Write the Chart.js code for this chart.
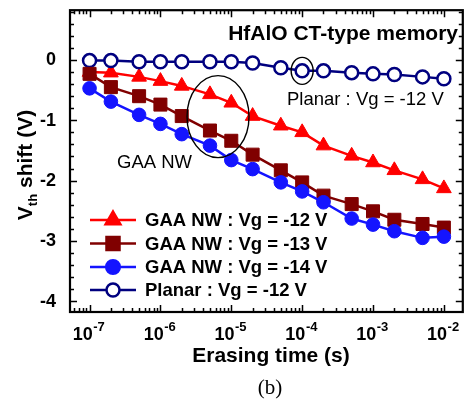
<!DOCTYPE html>
<html>
<head>
<meta charset="utf-8">
<script src="https://cdn.jsdelivr.net/npm/chart.js@4.4.1/dist/chart.umd.min.js"></script>
<style>
  html, body { margin: 0; padding: 0; background: #ffffff; }
  #wrap { width: 473px; height: 412px; }
</style>
</head>
<body>
<div id="wrap"><canvas id="c" width="473" height="412"></canvas></div>
<script>
// ---- data ----
const times = [1e-7, 2e-7, 5e-7, 1e-6, 2e-6, 5e-6, 1e-5, 2e-5, 5e-5, 1e-4, 2e-4, 5e-4, 1e-3, 2e-3, 5e-3, 1e-2];
const gaaVg12 = [-0.20, -0.21, -0.28, -0.35, -0.43, -0.57, -0.71, -0.93, -1.09, -1.20, -1.42, -1.59, -1.70, -1.83, -1.98, -2.13];
const gaaVg13 = [-0.23, -0.45, -0.60, -0.74, -0.93, -1.17, -1.34, -1.57, -1.83, -2.03, -2.25, -2.39, -2.51, -2.65, -2.72, -2.78];
const gaaVg14 = [-0.47, -0.69, -0.91, -1.06, -1.23, -1.42, -1.66, -1.81, -2.03, -2.18, -2.36, -2.63, -2.73, -2.84, -2.95, -2.93];
const planarVg12 = [-0.01, -0.01, -0.03, -0.03, -0.03, -0.03, -0.03, -0.05, -0.13, -0.18, -0.18, -0.21, -0.23, -0.24, -0.28, -0.31];
const xTickExponents = [-7, -6, -5, -4, -3, -2];
const yTickValues = [0, -1, -2, -3, -4];
const seriesLabels = ['GAA NW : Vg = -12 V', 'GAA NW : Vg = -13 V', 'GAA NW : Vg = -14 V', 'Planar : Vg = -12 V'];

const toXY = arr => arr.map((v, i) => ({ x: times[i], y: v }));

const COLORS = { red: '#ff0000', maroon: '#800000', blue: '#1414ff', navy: '#00007f' };
const SANS = '"Liberation Sans", Arial, Helvetica, sans-serif';

const styles = [
  { color: COLORS.red, pointStyle: 'triangle', radius: 8.5, fill: COLORS.red },
  { color: COLORS.maroon, pointStyle: 'rect', radius: 9.2, fill: COLORS.maroon },
  { color: COLORS.blue, pointStyle: 'circle', radius: 6.8, fill: COLORS.blue },
  { color: COLORS.navy, pointStyle: 'circle', radius: 6.5, fill: '#ffffff' }
];
const seriesData = [gaaVg12, gaaVg13, gaaVg14, planarVg12];

const datasets = seriesData.map((d, i) => ({
  label: seriesLabels[i],
  data: toXY(d),
  borderColor: styles[i].color,
  backgroundColor: styles[i].fill,
  pointBackgroundColor: styles[i].fill,
  pointBorderColor: styles[i].color,
  pointStyle: styles[i].pointStyle,
  pointRadius: styles[i].radius,
  pointHoverRadius: styles[i].radius,
  pointBorderWidth: i === 3 ? 2.5 : 1,
  borderWidth: 2.5,
  tension: 0,
  fill: false,
  order: [3, 1, 0, 2][i]
}));

const decorPlugin = {
  id: 'decor',
  afterDatasetsDraw(chart) {
    const ctx = chart.ctx;
    const xs = chart.scales.x, ys = chart.scales.y;
    const a = chart.chartArea;
    ctx.save();

    // ellipses (annotation circles), centred in data units
    ctx.strokeStyle = '#000';
    ctx.lineWidth = 1.4;
    ctx.beginPath();
    ctx.ellipse(xs.getPixelForValue(6.5e-6), ys.getPixelForValue(-0.94), 31, 41, 0, 0, Math.PI * 2);
    ctx.stroke();
    ctx.beginPath();
    ctx.ellipse(xs.getPixelForValue(1e-4), ys.getPixelForValue(-0.18), 11, 13.5, 0, 0, Math.PI * 2);
    ctx.stroke();

    // frame
    ctx.strokeStyle = '#000';
    ctx.lineWidth = 2.2;
    ctx.strokeRect(a.left, a.top, a.right - a.left, a.bottom - a.top);

    // x ticks (log): major decades, minor 2..9
    ctx.lineWidth = 1.5;
    const decMin = Math.floor(Math.log10(xs.min)), decMax = Math.ceil(Math.log10(xs.max));
    for (let d = decMin; d <= decMax; d++) {
      for (let m = 1; m <= 9; m++) {
        const v = m * Math.pow(10, d);
        if (v < xs.min || v > xs.max) continue;
        const px = Math.round(xs.getPixelForValue(v)) + 0.5;
        const len = m === 1 ? 7 : 4;
        ctx.beginPath();
        ctx.moveTo(px, a.bottom); ctx.lineTo(px, a.bottom - len);
        ctx.moveTo(px, a.top); ctx.lineTo(px, a.top + len);
        ctx.stroke();
      }
    }
    // y ticks every 0.2
    for (let k = Math.ceil(ys.min / 0.2); k <= Math.floor(ys.max / 0.2); k++) {
      const v = k * 0.2;
      const py = Math.round(ys.getPixelForValue(v)) + 0.5;
      const len = (k % 5 === 0) ? 7 : 4;
      ctx.beginPath();
      ctx.moveTo(a.left, py); ctx.lineTo(a.left + len, py);
      ctx.moveTo(a.right, py); ctx.lineTo(a.right - len, py);
      ctx.stroke();
    }

    ctx.fillStyle = '#000';
    // y tick labels
    ctx.font = 'bold 18px ' + SANS;
    ctx.textAlign = 'right';
    ctx.textBaseline = 'middle';
    yTickValues.forEach(v => {
      ctx.fillText(String(v), 56, ys.getPixelForValue(v) + 0.5);
    });

    // x tick labels 10^n
    ctx.textBaseline = 'alphabetic';
    ctx.textAlign = 'left';
    xTickExponents.forEach(e => {
      const px = xs.getPixelForValue(Math.pow(10, e));
      ctx.font = 'bold 18px ' + SANS;
      const w1 = ctx.measureText('10').width;
      ctx.font = 'bold 13px ' + SANS;
      const w2 = ctx.measureText(String(e)).width;
      const x0 = px - (w1 + w2) / 2 - 1;
      ctx.font = 'bold 18px ' + SANS;
      ctx.fillText('10', x0, 340);
      ctx.font = 'bold 13px ' + SANS;
      ctx.fillText(String(e), x0 + w1 + 0.5, 331);
    });

    // axis titles
    ctx.font = 'bold 21px ' + SANS;
    ctx.textAlign = 'center';
    ctx.fillText('Erasing time (s)', 271, 362);

    // y title rotated: V_th shift (V)
    ctx.save();
    ctx.translate(32, 165);
    ctx.rotate(-Math.PI / 2);
    ctx.textAlign = 'left';
    ctx.font = 'bold 21px ' + SANS;
    const wV = ctx.measureText('V').width;
    ctx.font = 'bold 13px ' + SANS;
    const wth = ctx.measureText('th').width;
    ctx.font = 'bold 21px ' + SANS;
    const wRest = ctx.measureText(' shift (V)').width;
    const total = wV + wth + wRest;
    let xx = -total / 2;
    ctx.fillText('V', xx, 0); xx += wV;
    ctx.font = 'bold 13px ' + SANS;
    ctx.fillText('th', xx, 5); xx += wth;
    ctx.font = 'bold 21px ' + SANS;
    ctx.fillText(' shift (V)', xx, 0);
    ctx.restore();

    // in-plot texts
    ctx.font = 'bold 21px ' + SANS;
    ctx.textAlign = 'right';
    ctx.fillText('HfAlO CT-type memory', 458, 40);
    ctx.font = '18.5px ' + SANS;
    ctx.textAlign = 'left';
    ctx.fillText('Planar : Vg = -12 V', 287, 105);
    ctx.fillText('GAA NW', 117, 168);

    // caption
    ctx.font = '21px "Liberation Serif", "Times New Roman", serif';
    ctx.textAlign = 'center';
    ctx.fillText('(b)', 270, 394);

    // legend
    const rows = [220, 243.5, 267, 290];
    rows.forEach((ry, i) => {
      const st = styles[i];
      ctx.strokeStyle = st.color;
      ctx.lineWidth = 2.5;
      ctx.beginPath();
      ctx.moveTo(90, ry); ctx.lineTo(136, ry);
      ctx.stroke();
      ctx.fillStyle = st.fill;
      Chart.helpers.drawPoint(ctx, {
        pointStyle: st.pointStyle, radius: st.radius, rotation: 0,
        borderWidth: i === 3 ? 2.5 : 1
      }, 113, ry);
      ctx.fillStyle = '#000';
      ctx.font = 'bold 18.5px ' + SANS;
      ctx.textAlign = 'left';
      ctx.textBaseline = 'middle';
      ctx.fillText(seriesLabels[i], 145, ry + 1);
    });
    ctx.restore();
  }
};

new Chart(document.getElementById('c'), {
  type: 'line',
  data: { datasets },
  options: {
    responsive: false,
    devicePixelRatio: 1,
    animation: false,
    layout: { padding: { left: 70, right: 2, top: 9, bottom: 100 } },
    plugins: { legend: { display: false }, tooltip: { enabled: false }, title: { display: false } },
    scales: {
      x: { type: 'logarithmic', min: Math.pow(10, -7.276), max: Math.pow(10, -1.733), display: false },
      y: { type: 'linear', min: -4.18, max: 0.826, display: false }
    }
  },
  plugins: [decorPlugin]
});
</script>
</body>
</html>
